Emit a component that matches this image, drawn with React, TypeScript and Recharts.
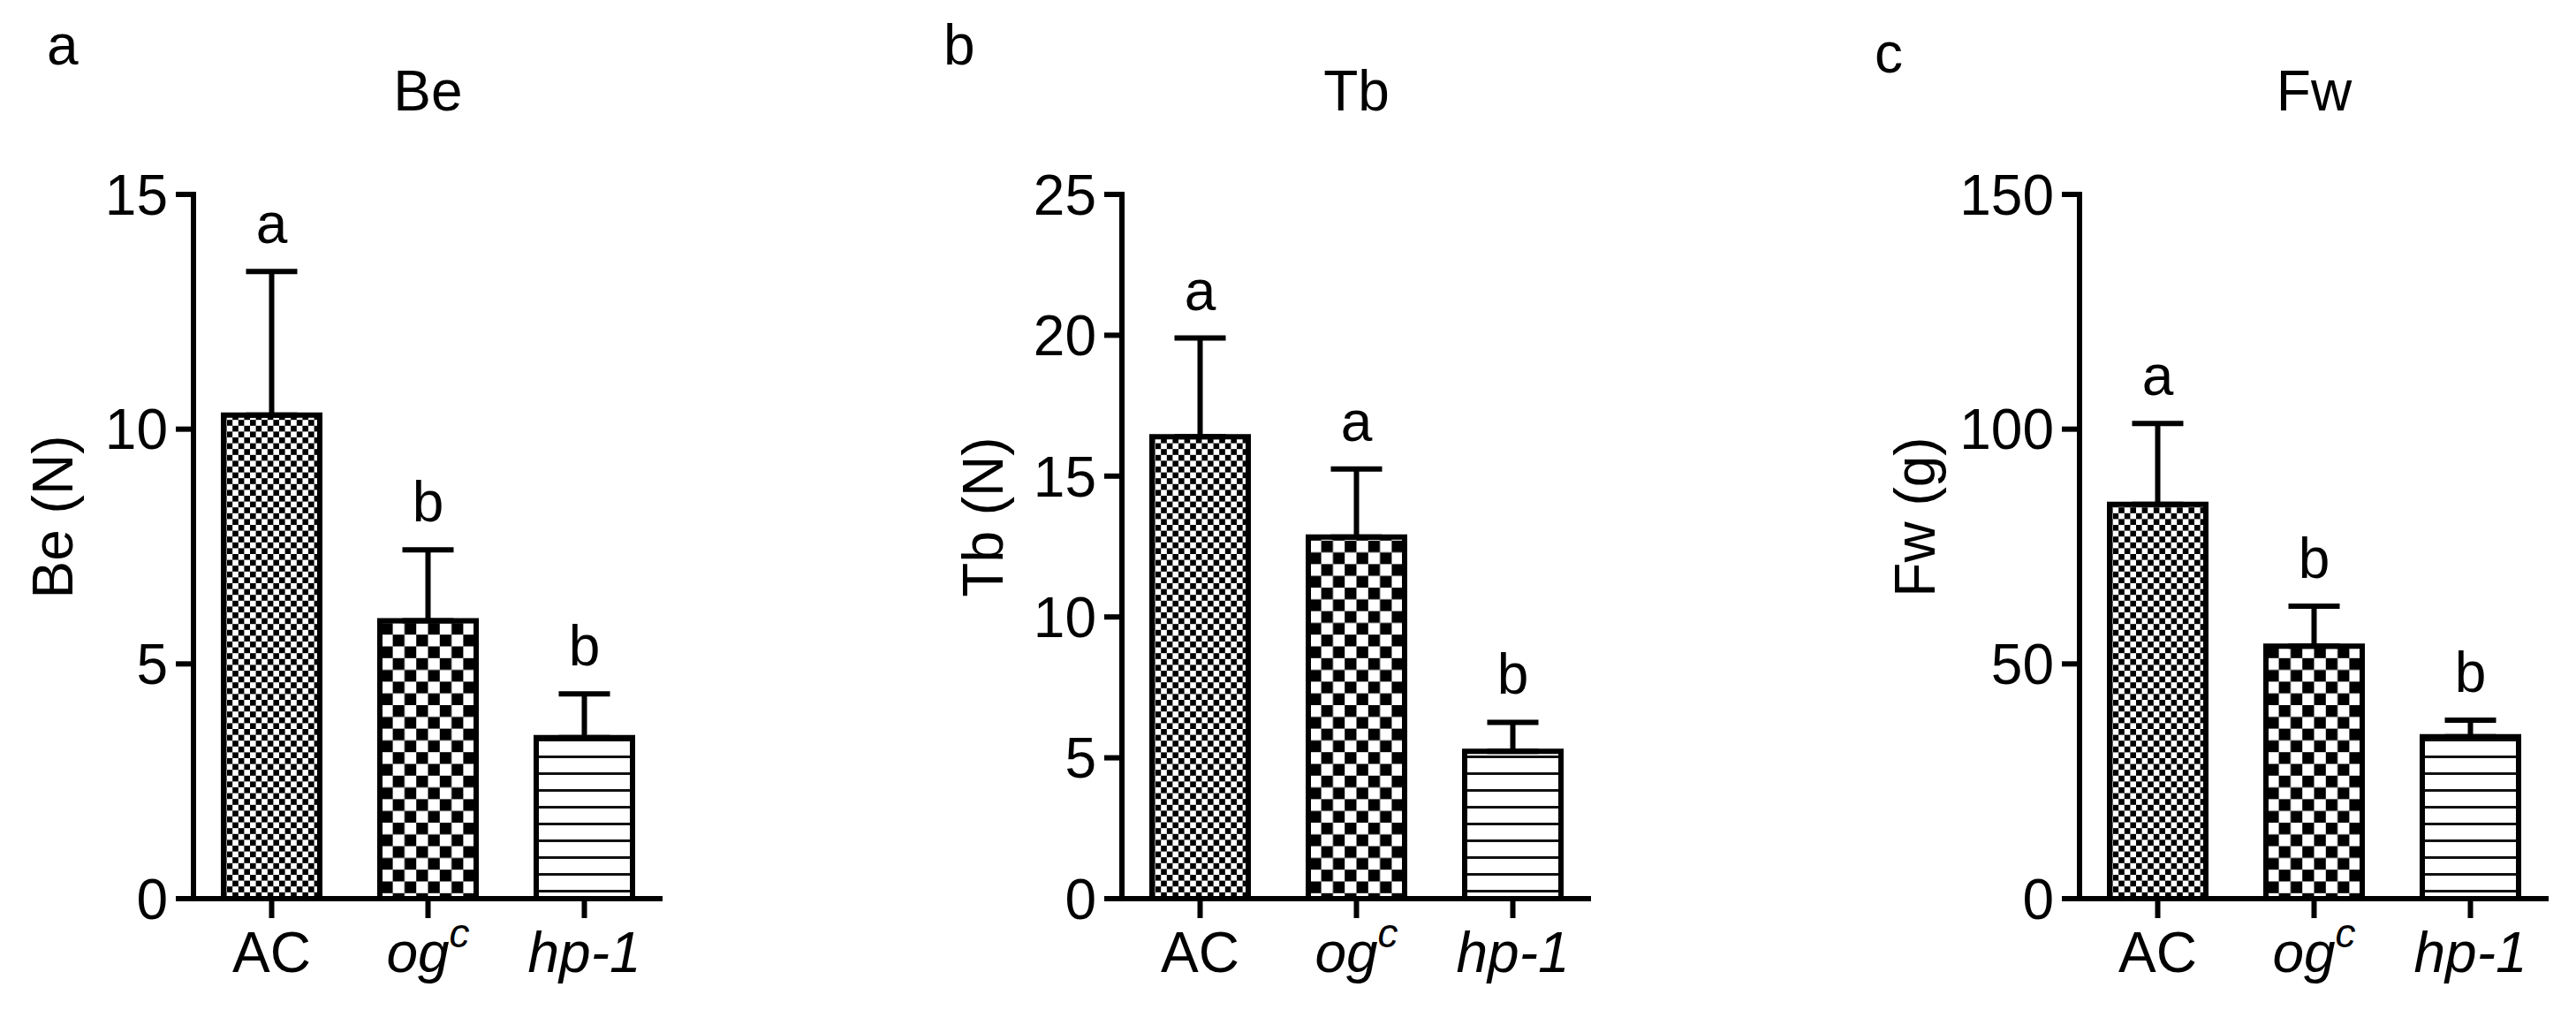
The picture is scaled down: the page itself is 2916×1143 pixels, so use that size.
import React from 'react'
import { BarChart, Bar, XAxis, YAxis, ErrorBar, Cell, LabelList } from 'recharts'

// groups on the x axis
const groups = ['AC', 'og', 'hp-1']

// Be (N)
const beMean = [10.3, 5.92, 3.43]
const beSd = [3.06, 1.51, 0.93]
const beLetters = ['a', 'b', 'b']
const beTicks = [0, 5, 10, 15]

// Tb (N)
const tbMean = [16.4, 12.84, 5.23]
const tbSd = [3.5, 2.41, 1.03]
const tbLetters = ['a', 'a', 'b']
const tbTicks = [0, 5, 10, 15, 20, 25]

// Fw (g)
const fwMean = [84.0, 53.8, 34.5]
const fwSd = [17.2, 8.5, 3.5]
const fwLetters = ['a', 'b', 'b']
const fwTicks = [0, 50, 100, 150]

const FONT = '"Liberation Sans", Arial, Helvetica, sans-serif'
const H = 1143
const PLOT_TOP = 220
const X_AXIS_H = 126
const PLOT_W = 531
const AXIS_W = 120
const M_LEFT = 80
const M_RIGHT = 30
const FS = 64

const panels = [
  { id: 'a', title: 'Be', yLabel: 'Be (N)', mean: beMean, sd: beSd, letters: beLetters, ticks: beTicks, plotLeft: 219, labelX: 60, letterX: 53, letterY: 73 },
  { id: 'b', title: 'Tb', yLabel: 'Tb (N)', mean: tbMean, sd: tbSd, letters: tbLetters, ticks: tbTicks, plotLeft: 1270, labelX: 1113, letterX: 1068, letterY: 73 },
  { id: 'c', title: 'Fw', yLabel: 'Fw (g)', mean: fwMean, sd: fwSd, letters: fwLetters, ticks: fwTicks, plotLeft: 2354, labelX: 2168, letterX: 2122, letterY: 82 },
]

function GroupTick(props: any) {
  const { x, y, payload } = props
  const v = payload.value
  return (
    <text x={x} y={y} dy="0.71em" textAnchor="middle" fontSize={FS} fill="#000" fontFamily={FONT}>
      {v === 'AC' && 'AC'}
      {v === 'og' && (
        <>
          <tspan fontStyle="italic">og</tspan>
          <tspan fontStyle="italic" fontSize={46} dy="-0.62em">c</tspan>
        </>
      )}
      {v === 'hp-1' && <tspan fontStyle="italic">hp-1</tspan>}
    </text>
  )
}

function Panel({ p }: { p: any }) {
  const data = groups.map((g, i) => ({ name: g, mean: p.mean[i], err: [0, p.sd[i]], letter: p.letters[i] }))
  const max = p.ticks[p.ticks.length - 1]
  const chartW = M_LEFT + AXIS_W + PLOT_W + M_RIGHT
  const left = p.plotLeft - AXIS_W - M_LEFT

  const renderLetter = (props: any) => {
    const vb = props.viewBox ?? props
    const { x, y, width, height } = vb
    const i = props.index
    const ppu = height / p.mean[i]
    const top = y - p.sd[i] * ppu
    return (
      <text x={x + width / 2} y={top - 32} textAnchor="middle" fontSize={FS} fill="#000" fontFamily={FONT}>
        {props.value}
      </text>
    )
  }

  return (
    <div style={{ position: 'absolute', left, top: 0 }}>
      <BarChart width={chartW} height={H} data={data} margin={{ top: PLOT_TOP, right: M_RIGHT, bottom: 0, left: M_LEFT }}>
        <defs>
          <pattern id={`${p.id}-fine`} patternUnits="userSpaceOnUse" width={13.2} height={13.2}>
            <rect width={13.2} height={13.2} fill="#fff" />
            <rect width={6.6} height={6.6} fill="#000" />
            <rect x={6.6} y={6.6} width={6.6} height={6.6} fill="#000" />
          </pattern>
          <pattern id={`${p.id}-coarse`} patternUnits="userSpaceOnUse" width={26.6} height={26.6}>
            <rect width={26.6} height={26.6} fill="#fff" />
            <rect width={13.3} height={13.3} fill="#000" />
            <rect x={13.3} y={13.3} width={13.3} height={13.3} fill="#000" />
          </pattern>
          <pattern id={`${p.id}-lines`} patternUnits="userSpaceOnUse" width={20} height={19}>
            <rect width={20} height={19} fill="#fff" />
            <rect y={0} width={20} height={3} fill="#111" />
          </pattern>
        </defs>
        <XAxis
          dataKey="name"
          height={X_AXIS_H}
          interval={0}
          tickSize={22}
          tickMargin={16}
          tick={<GroupTick />}
          axisLine={{ stroke: '#000', strokeWidth: 6 }}
          tickLine={{ stroke: '#000', strokeWidth: 6 }}
        />
        <YAxis
          width={AXIS_W}
          domain={[0, max]}
          ticks={p.ticks}
          interval={0}
          tickSize={20}
          tickMargin={9}
          tick={{ fontSize: FS, fill: '#000', fontFamily: FONT }}
          axisLine={{ stroke: '#000', strokeWidth: 6, strokeLinecap: 'square' }}
          tickLine={{ stroke: '#000', strokeWidth: 6 }}
        />
        <Bar dataKey="mean" barSize={109} stroke="#000" strokeWidth={6} isAnimationActive={false}>
          <Cell fill={`url(#${p.id}-fine)`} />
          <Cell fill={`url(#${p.id}-coarse)`} />
          <Cell fill={`url(#${p.id}-lines)`} />
          <ErrorBar dataKey="err" direction="y" width={29} stroke="#000" strokeWidth={6} isAnimationActive={false} />
          <LabelList dataKey="letter" content={renderLetter} />
        </Bar>
      </BarChart>
    </div>
  )
}

export default function App() {
  return (
    <div style={{ position: 'absolute', left: 0, top: 0, width: 2916, height: H, background: '#fff', fontFamily: FONT }}>
      <svg width={2916} height={H} style={{ position: 'absolute', left: 0, top: 0 }}>
        {panels.map(p => (
          <g key={p.id} fontFamily={FONT} fill="#000" fontSize={FS}>
            <text x={p.letterX} y={p.letterY}>{p.id}</text>
            <text x={p.plotLeft + PLOT_W / 2} y={125} textAnchor="middle">{p.title}</text>
            <text transform={`translate(${p.labelX},585) rotate(-90)`} textAnchor="middle" dominantBaseline="central">{p.yLabel}</text>
          </g>
        ))}
      </svg>
      {panels.map(p => <Panel key={p.id} p={p} />)}
    </div>
  )
}
